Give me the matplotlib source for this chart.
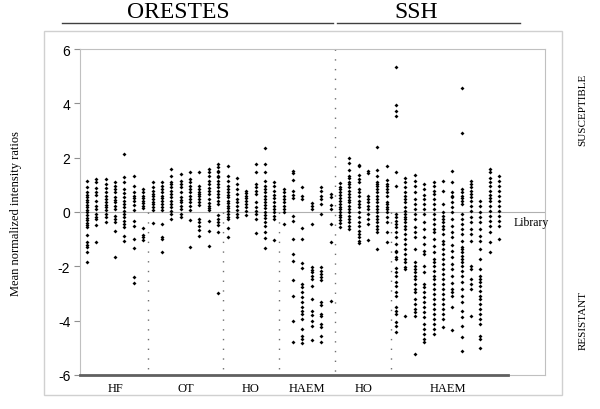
import matplotlib
matplotlib.use("Agg")
import matplotlib.pyplot as plt
from matplotlib.lines import Line2D
from matplotlib.patches import Rectangle

# mean normalized intensity ratios, one list per clone column
hf = [
    [1.15, 0.93, 0.75, 0.62, 0.54, 0.44, 0.36, 0.26, 0.17, 0.09, -0.01, -0.11, -0.21, -0.29, -0.4, -0.48, -0.56, -0.85, -1.12, -1.21, -1.3, -1.48, -1.85],
    [1.21, 1.09, 0.87, 0.72, 0.62, 0.42, 0.23, 0.11, -0.07, -0.2, -0.26, -0.48, -1.12],
    [1.21, 1.03, 0.87, 0.72, 0.58, 0.48, 0.36, 0.26, 0.17, 0.09, -0.07, -0.2, -0.36],
    [1.09, 0.97, 0.85, 0.72, 0.54, 0.45, 0.36, 0.23, 0.11, -0.16, -0.26, -0.38, -0.69, -1.67],
    [2.13, 1.27, 1.12, 0.85, 0.69, 0.54, 0.42, 0.29, 0.17, 0.05, -0.07, -0.2, -0.32, -0.44, -0.56, -0.87, -1.05],
    [1.34, 0.97, 0.75, 0.6, 0.5, 0.42, 0.26, 0.09, -0.32, -0.53, -0.99, -1.34, -2.4, -2.61],
    [0.85, 0.72, 0.6, 0.5, 0.42, 0.33, 0.23, 0.13, -0.6, -0.85, -0.93, -1.02],
]
ot = [
    [1.09, 0.91, 0.78, 0.66, 0.58, 0.48, 0.38, 0.29, 0.17, 0.09, -0.4],
    [1.12, 0.97, 0.85, 0.72, 0.6, 0.5, 0.42, 0.29, 0.17, 0.09, -0.43, -0.93, -1.0, -1.46],
    [1.58, 1.34, 1.12, 1.03, 0.91, 0.78, 0.66, 0.54, 0.42, 0.29, 0.17, 0.05, -0.07, -0.26],
    [1.4, 1.15, 1.03, 0.91, 0.72, 0.54, 0.45, 0.36, 0.23, 0.11, -0.07, -0.2],
    [1.46, 1.21, 1.09, 0.97, 0.85, 0.72, 0.6, 0.48, 0.36, 0.23, 0.09, -0.28, -1.3],
    [1.46, 0.97, 0.85, 0.75, 0.66, 0.58, 0.48, 0.36, 0.26, -0.26, -0.38, -0.5, -0.65, -0.87],
    [1.6, 1.46, 1.34, 1.15, 1.03, 0.87, 0.78, 0.66, 0.48, 0.33, 0.23, 0.13, 0.09, -0.32, -0.69, -1.26],
    [1.76, 1.64, 1.52, 1.46, 1.34, 1.27, 1.15, 1.03, 0.91, 0.78, 0.66, 0.54, 0.42, 0.29, -0.11, -0.26, -0.38, -0.48, -0.75, -2.98],
]
ho_orestes = [
    [1.68, 1.34, 1.15, 0.97, 0.85, 0.75, 0.62, 0.54, 0.42, 0.33, 0.23, 0.13, 0.05, -0.07, -0.17, -0.26, -0.6, -0.93],
    [1.24, 1.03, 0.85, 0.66, 0.48, 0.36, 0.23, 0.09, -0.07, -0.2],
    [0.78, 0.7, 0.6, 0.5, 0.42, 0.29, 0.17, 0.05, -0.11],
    [1.76, 1.46, 1.03, 0.91, 0.78, 0.66, 0.36, 0.17, 0.05, -0.07, -0.26, -0.78],
    [2.34, 1.76, 1.46, 1.15, 0.97, 0.85, 0.72, 0.6, 0.48, 0.38, 0.26, 0.13, 0.01, -0.11, -0.23, -0.36, -0.5, -0.72, -0.94, -1.31],
    [1.12, 0.97, 0.78, 0.62, 0.5, 0.36, 0.23, 0.11, -0.01, -0.13, -0.26, -1.03],
]
haem_orestes = [
    [0.85, 0.72, 0.6, 0.48, 0.36, 0.23, 0.11, 0.01, -0.44],
    [1.52, 1.42, 1.19, 0.78, 0.62, 0.5, -0.16, -0.32, -0.99, -1.54, -1.79, -2.52, -3.08, -4.03, -4.79],
    [0.91, 0.6, 0.48, -0.6, -0.99, -1.88, -2.07, -2.65, -2.77, -2.95, -3.14, -3.32, -3.5, -3.63, -3.75, -3.93, -4.3, -4.55, -4.67, -4.82],
    [0.33, 0.23, 0.11, -0.44, -2.03, -2.12, -2.22, -2.34, -2.46, -2.71, -3.2, -3.66, -3.8, -4.0, -4.18, -4.73],
    [0.91, 0.78, 0.6, 0.48, 0.29, -0.07, -2.03, -2.16, -2.28, -2.4, -2.52, -3.32, -3.44, -3.75, -3.81, -4.12, -4.24, -4.55, -4.79],
    [0.66, 0.54, 0.26, 0.11, -0.44, -1.09, -3.26],
]
ho_ssh = [
    [1.05, 0.93, 0.85, 0.72, 0.63, 0.5, 0.4, 0.3, 0.2, 0.1, 0.0, -0.1, -0.2, -0.3, -0.42, -0.55],
    [1.99, 1.8, 1.56, 1.34, 1.24, 1.12, 1.03, 0.91, 0.78, 0.66, 0.55, 0.45, 0.35, 0.23, 0.11, 0.0, -0.13, -0.26, -0.38, -0.5, -0.62],
    [1.73, 1.68, 1.36, 1.21, 1.09, 0.85, 0.72, 0.6, 0.42, 0.29, 0.17, 0.0, -0.2, -0.38, -0.5, -0.69, -0.81, -0.93, -1.05, -1.14],
    [1.52, 1.43, 0.6, 0.48, 0.36, 0.23, 0.11, -0.07, -0.26, -0.44, -1.02],
    [2.38, 1.56, 1.34, 1.12, 1.03, 0.94, 0.85, 0.72, 0.6, 0.48, 0.36, 0.23, 0.11, -0.01, -0.13, -0.26, -0.38, -0.5, -0.62, -0.75, -1.38],
    [1.68, 1.19, 1.03, 0.97, 0.85, 0.72, 0.6, 0.36, 0.29, 0.17, 0.11, -0.01, -0.2, -0.38, -0.75, -1.12],
]
haem_ssh = [
    [5.32, 3.95, 3.73, 3.52, 1.48, 0.97, -0.07, -0.2, -0.32, -0.44, -0.56, -0.75, -0.93, -1.18, -1.42, -1.48, -1.67, -1.73, -2.07, -2.22, -2.34, -2.59, -2.71, -2.95, -3.08, -3.5, -3.63, -3.75, -4.06, -4.18, -4.42],
    [1.24, 1.09, 0.91, 0.72, 0.6, 0.48, 0.36, 0.17, 0.05, -0.07, -0.2, -0.26, -0.38, -0.5, -0.62, -0.81, -0.99, -1.18, -1.36, -1.54, -1.73, -1.85, -2.03, -2.1, -3.81],
    [1.37, 1.15, 0.97, 0.72, 0.48, 0.29, 0.11, -0.07, -0.26, -0.56, -0.75, -0.93, -1.36, -1.85, -1.97, -2.1, -2.22, -2.34, -2.46, -2.65, -2.83, -2.95, -3.2, -3.38, -3.57, -3.69, -3.81, -5.22],
    [1.02, 0.85, 0.63, 0.48, 0.29, 0.11, -0.07, -0.38, -0.62, -0.93, -1.18, -1.42, -1.54, -1.97, -2.22, -2.65, -2.77, -2.95, -3.14, -3.32, -3.5, -3.69, -3.87, -4.12, -4.3, -4.49, -4.67, -4.8],
    [1.09, 0.94, 0.78, 0.66, 0.48, 0.29, 0.11, -0.07, -0.26, -0.44, -0.62, -0.75, -0.99, -1.24, -1.48, -1.73, -1.85, -1.97, -2.16, -2.34, -2.46, -2.65, -2.83, -3.01, -3.2, -3.38, -3.57, -3.75, -3.93, -4.12, -4.3, -4.49],
    [1.15, 0.78, 0.29, -0.01, -0.13, -0.26, -0.38, -0.5, -0.62, -0.81, -1.05, -1.18, -1.36, -1.54, -1.73, -1.91, -2.1, -2.28, -2.46, -2.65, -2.83, -3.01, -3.2, -3.38, -3.57, -3.75, -3.93, -4.24],
    [1.52, 1.09, 0.72, 0.6, 0.54, 0.36, 0.2, -0.01, -0.26, -0.5, -0.75, -0.93, -1.2, -1.42, -1.65, -1.91, -2.1, -2.34, -2.6, -2.83, -2.95, -3.08, -3.5, -4.36],
    [4.56, 2.9, 0.85, 0.72, 0.6, 0.51, 0.42, 0.29, -0.07, -0.26, -0.44, -0.62, -0.81, -1.05, -1.3, -1.36, -1.48, -1.61, -1.73, -1.85, -1.97, -2.16, -2.34, -2.59, -2.83, -3.08, -3.32, -3.63, -3.87, -4.18, -4.61, -5.1],
    [1.15, 1.03, 0.91, 0.78, 0.66, 0.54, 0.42, 0.23, 0.05, -0.2, -0.38, -0.62, -0.81, -1.05, -1.97, -2.1, -2.46, -2.65, -2.83, -3.81],
    [0.42, 0.23, -0.01, -0.2, -0.38, -0.62, -0.87, -1.05, -1.36, -1.73, -2.1, -2.34, -2.46, -2.59, -2.71, -2.89, -3.08, -3.2, -3.38, -3.57, -3.75, -3.93, -4.12, -4.55, -4.67, -5.02],
    [1.6, 1.46, 1.24, 1.09, 0.94, 0.78, 0.63, 0.5, 0.42, 0.23, 0.05, -0.13, -0.32, -0.5, -0.75, -1.12, -1.48],
    [1.34, 1.15, 0.97, 0.78, 0.6, 0.42, 0.23, 0.05, -0.13, -0.32, -0.5, -0.99],
]

groups = [hf, ot, ho_orestes, haem_orestes, ho_ssh, haem_ssh]
group_labels = ["HF", "OT", "HO", "HAEM", "HO", "HAEM"]
yticks = [6, 4, 2, 0, -2, -4, -6]

serif = "Liberation Serif"
sans = "Liberation Sans"

fig = plt.figure(figsize=(6, 4.1), dpi=100)
ax = fig.add_axes([80/600, 34/410, 465/600, 326/410])

col = 0
seps = []
centers = []
for g in groups:
    start = col
    for vals in g:
        ax.plot([col]*len(vals), vals, linestyle="none", marker="D",
                markersize=2.0, color="black", markeredgewidth=0)
        col += 1
    centers.append((start + col - 1) / 2)
    seps.append(col - 0.5)
seps = seps[:-1]

x0, x1 = -0.75, 48.9
ax.set_xlim(x0, x1)
ax.set_ylim(-6, 6)
ax.axhline(0, color="#b0b0b0", lw=0.8, zorder=0)

# dotted separators; the ORESTES / SSH one runs the full height
for i, s in enumerate(seps):
    top = 6 if i == 3 else 0
    ax.plot([s, s], [top, -6], color="#707070", lw=1.0,
            linestyle=(0, (1, 6)), zorder=0)

for side in ["left", "top", "right", "bottom"]:
    ax.spines[side].set_color("#c0c0c0")
    ax.spines[side].set_linewidth(0.8)
ax.plot([x0, col], [-6, -6], color="#606060", lw=2.0, clip_on=False, zorder=3)

ax.set_xticks([])
ax.set_yticks(yticks)
ax.set_yticklabels([str(t).replace("−", "-") for t in yticks],
                   fontsize=10, family=sans)
ax.tick_params(axis="y", length=4, color="#909090", pad=3)

for c, lab in zip(centers, group_labels):
    ax.text(c, -6.25, lab, ha="center", va="top", fontsize=9, family=serif)

ax.text(45.5, -0.15, "Library", ha="left", va="top", fontsize=8.5, family=serif)

fig.text(16/600, 0.48, "Mean normalized intensity ratios", rotation=90,
         ha="center", va="center", fontsize=9, family=serif)
fig.text(583/600, 1 - 110/410, "SUSCEPTIBLE", rotation=90,
         ha="center", va="center", fontsize=8, family=serif)
fig.text(583/600, 1 - 320/410, "RESISTANT", rotation=90,
         ha="center", va="center", fontsize=8, family=serif)

fig.text(178/600, 1 - 13/410, "ORESTES", ha="center", va="center",
         fontsize=17, family=serif)
fig.text(416/600, 1 - 13/410, "SSH", ha="center", va="center",
         fontsize=17, family=serif)
fig.add_artist(Line2D([62/600, 333/600], [1 - 24/410]*2, color="#404040", lw=1))
fig.add_artist(Line2D([337/600, 520/600], [1 - 24/410]*2, color="#404040", lw=1))

fig.add_artist(Rectangle((44/600, 14/410), 518/600, 364/410, fill=False,
                         edgecolor="#d0d0d0", lw=1))

fig.savefig("out.png", dpi=100)
